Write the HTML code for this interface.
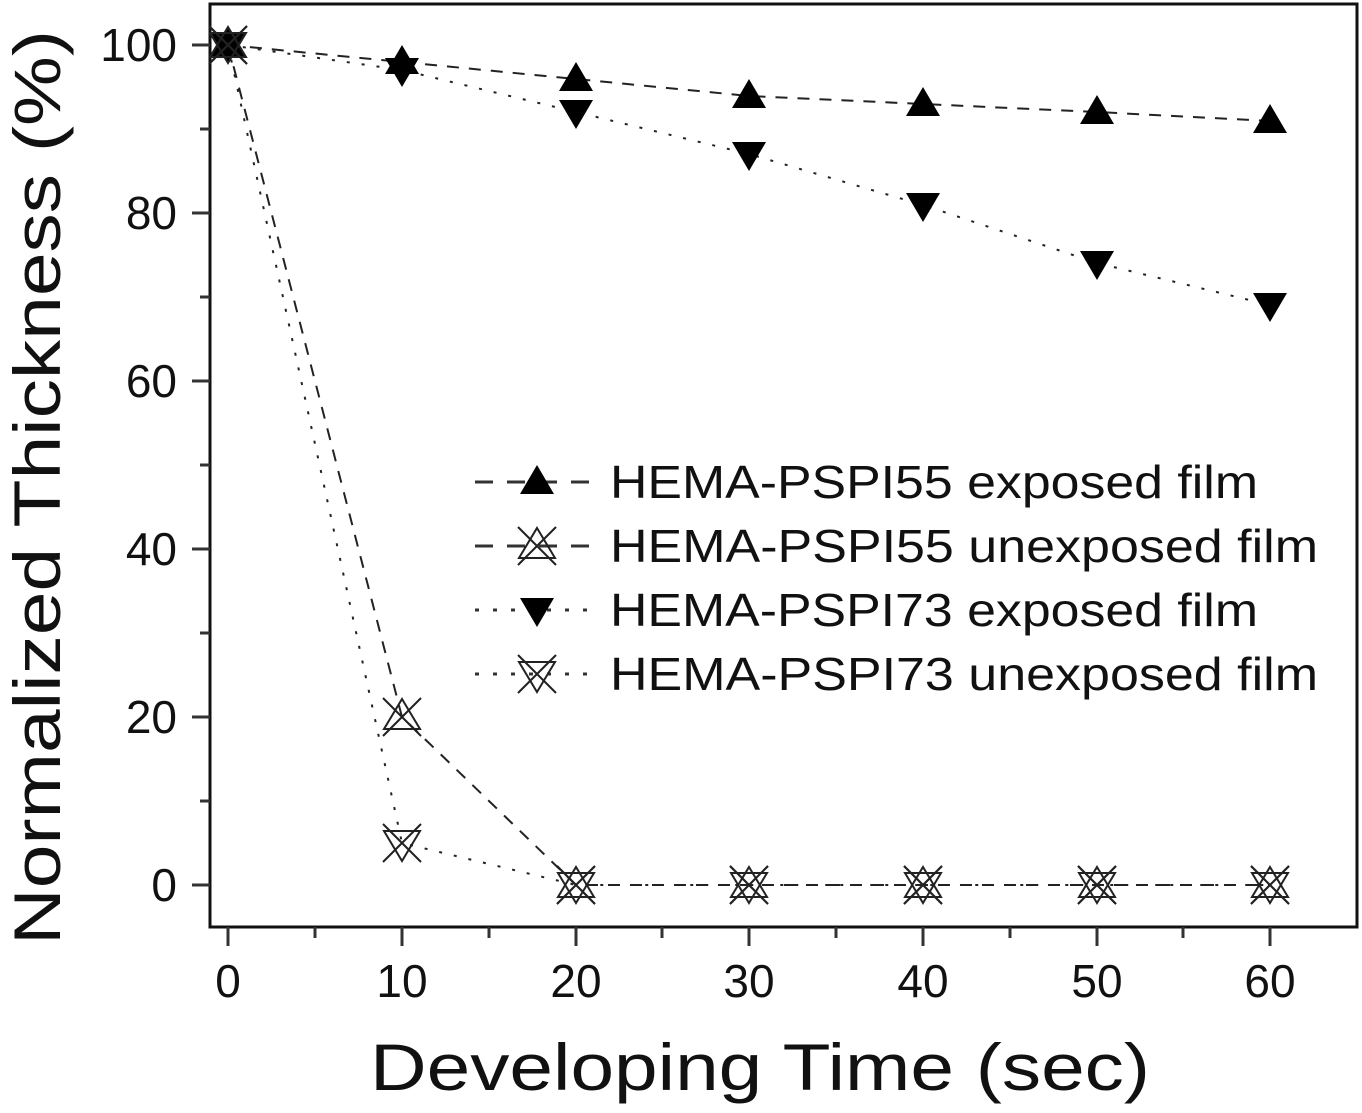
<!DOCTYPE html>
<html><head><style>html,body{margin:0;padding:0;background:#fff}</style></head><body>
<svg width="1362" height="1108" xmlns="http://www.w3.org/2000/svg" font-family="Liberation Sans, sans-serif">
<defs>
<g id="tu"><polygon points="0,-17 17,12 -17,12" fill="#000"/></g>
<g id="td"><polygon points="0,17 17,-12 -17,-12" fill="#000"/></g>
<g id="ou" fill="none" stroke="#222" stroke-width="2"><polygon points="0,-18 18,12 -18,12"/><line x1="-19" y1="-19" x2="19" y2="19"/><line x1="19" y1="-19" x2="-19" y2="19"/></g>
<g id="od" fill="none" stroke="#222" stroke-width="2"><polygon points="0,18 18,-12 -18,-12"/><line x1="-19" y1="-19" x2="19" y2="19"/><line x1="19" y1="-19" x2="-19" y2="19"/></g>
</defs>
<rect x="210" y="4" width="1147" height="923" fill="none" stroke="#111" stroke-width="3"/>
<g stroke="#333" stroke-width="3">
<line x1="192" y1="45" x2="210" y2="45"/><line x1="192" y1="213" x2="210" y2="213"/><line x1="192" y1="381" x2="210" y2="381"/><line x1="192" y1="549" x2="210" y2="549"/><line x1="192" y1="717" x2="210" y2="717"/><line x1="192" y1="885" x2="210" y2="885"/>
<line x1="200" y1="129" x2="210" y2="129"/><line x1="200" y1="297" x2="210" y2="297"/><line x1="200" y1="465" x2="210" y2="465"/><line x1="200" y1="633" x2="210" y2="633"/><line x1="200" y1="801" x2="210" y2="801"/>
<line x1="228" y1="927" x2="228" y2="946"/><line x1="402" y1="927" x2="402" y2="946"/><line x1="576" y1="927" x2="576" y2="946"/><line x1="749" y1="927" x2="749" y2="946"/><line x1="923" y1="927" x2="923" y2="946"/><line x1="1097" y1="927" x2="1097" y2="946"/><line x1="1270" y1="927" x2="1270" y2="946"/>
<line x1="315" y1="927" x2="315" y2="938"/><line x1="489" y1="927" x2="489" y2="938"/><line x1="662" y1="927" x2="662" y2="938"/><line x1="836" y1="927" x2="836" y2="938"/><line x1="1010" y1="927" x2="1010" y2="938"/><line x1="1183" y1="927" x2="1183" y2="938"/>
</g>
<g font-size="46" text-anchor="end" fill="#111">
<text x="177" y="61">100</text><text x="177" y="229">80</text><text x="177" y="397">60</text><text x="177" y="565">40</text><text x="177" y="733">20</text><text x="177" y="901">0</text>
</g>
<g font-size="46" text-anchor="middle" fill="#111">
<text x="228" y="997">0</text><text x="402" y="997">10</text><text x="576" y="997">20</text><text x="749" y="997">30</text><text x="923" y="997">40</text><text x="1097" y="997">50</text><text x="1270" y="997">60</text>
</g>
<text x="370" y="1090" font-size="66" textLength="780" lengthAdjust="spacingAndGlyphs" fill="#111">Developing Time (sec)</text>
<text transform="translate(60,945) rotate(-90)" font-size="66" textLength="915" lengthAdjust="spacingAndGlyphs" fill="#111">Normalized Thickness (%)</text>
<g fill="none" stroke="#222" stroke-width="2">
<polyline stroke-dasharray="12,10" points="228,45 402,62 576,79 749,96 923,104 1097,112 1270,121"/>
<polyline stroke-dasharray="3,12" points="228,45 402,70 576,112 749,154 923,205 1097,263 1270,305"/>
<polyline stroke-dasharray="12,10" points="228,45 402,717 576,885 1270,885"/>
<polyline stroke-dasharray="3,12" points="228,45 402,843 576,885 1270,885"/>
</g>
<use href="#tu" x="228" y="45"/><use href="#td" x="228" y="45"/><use href="#ou" x="228" y="45"/><use href="#od" x="228" y="45"/>
<use href="#tu" x="402" y="62"/><use href="#td" x="402" y="70"/>
<use href="#tu" x="576" y="79"/><use href="#td" x="576" y="112"/>
<use href="#tu" x="749" y="96"/><use href="#td" x="749" y="154"/>
<use href="#tu" x="923" y="104"/><use href="#td" x="923" y="205"/>
<use href="#tu" x="1097" y="112"/><use href="#td" x="1097" y="263"/>
<use href="#tu" x="1270" y="121"/><use href="#td" x="1270" y="305"/>
<use href="#ou" x="402" y="717"/><use href="#od" x="402" y="843"/>
<g><use href="#ou" x="576" y="885"/><use href="#od" x="576" y="885"/><use href="#ou" x="749" y="885"/><use href="#od" x="749" y="885"/><use href="#ou" x="923" y="885"/><use href="#od" x="923" y="885"/><use href="#ou" x="1097" y="885"/><use href="#od" x="1097" y="885"/><use href="#ou" x="1270" y="885"/><use href="#od" x="1270" y="885"/></g>
<g fill="none" stroke="#333" stroke-width="3">
<line x1="475" y1="482" x2="600" y2="482" stroke-dasharray="18,14"/>
<line x1="475" y1="546" x2="600" y2="546" stroke-dasharray="18,14"/>
<line x1="475" y1="610" x2="600" y2="610" stroke-dasharray="4,14"/>
<line x1="475" y1="674" x2="600" y2="674" stroke-dasharray="4,14"/>
</g>
<use href="#tu" x="537" y="482"/><use href="#ou" x="537" y="546"/><use href="#td" x="537" y="610"/><use href="#od" x="537" y="674"/>
<g font-size="46" fill="#111">
<text x="610" y="498" textLength="648" lengthAdjust="spacingAndGlyphs">HEMA-PSPI55 exposed film</text>
<text x="610" y="562" textLength="708" lengthAdjust="spacingAndGlyphs">HEMA-PSPI55 unexposed film</text>
<text x="610" y="626" textLength="648" lengthAdjust="spacingAndGlyphs">HEMA-PSPI73 exposed film</text>
<text x="610" y="690" textLength="708" lengthAdjust="spacingAndGlyphs">HEMA-PSPI73 unexposed film</text>
</g>
</svg>
</body></html>
